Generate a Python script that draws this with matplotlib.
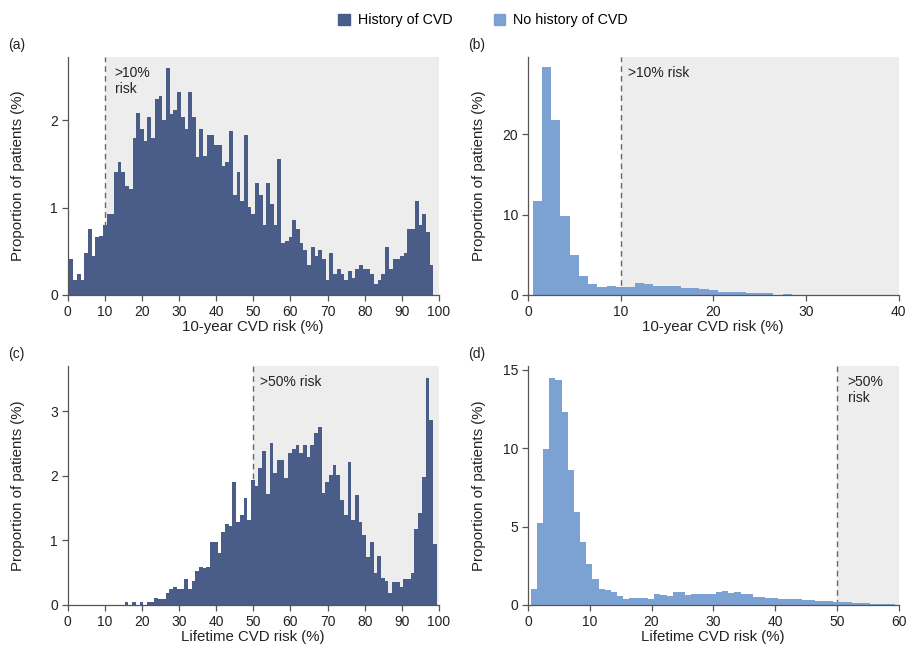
import numpy as np
import matplotlib
matplotlib.use("Agg")
import matplotlib.pyplot as plt
from matplotlib.patches import Patch

# --- DATA (proportion of patients, %, one value per 1-unit risk bin) ---
# (a) History of CVD, 10-year risk, bins start at 0.5
a_start = 0.5
a_vals = [0.41, 0.17, 0.24, 0.17, 0.48, 0.75, 0.45, 0.66, 0.68, 0.80,
          0.93, 0.93, 1.41, 1.52, 1.41, 1.25, 1.21, 1.79, 2.08, 1.90,
          1.76, 2.04, 1.79, 2.24, 2.28, 2.00, 2.60, 2.07, 2.11, 2.32,
          2.04, 1.90, 2.32, 2.04, 1.58, 1.90, 1.59, 1.83, 1.83, 1.72,
          1.72, 1.48, 1.52, 1.87, 1.14, 1.41, 1.07, 1.83, 1.01, 0.93,
          1.28, 1.14, 0.80, 1.28, 1.04, 0.80, 1.55, 0.59, 0.62, 0.66,
          0.86, 0.76, 0.59, 0.52, 0.34, 0.55, 0.45, 0.51, 0.41, 0.17,
          0.48, 0.24, 0.30, 0.24, 0.17, 0.27, 0.20, 0.30, 0.34, 0.30,
          0.30, 0.24, 0.13, 0.17, 0.24, 0.55, 0.30, 0.41, 0.41, 0.45,
          0.48, 0.76, 0.76, 1.07, 0.80, 0.93, 0.72, 0.34]

# (b) No history of CVD, 10-year risk
b_start = 0.5
b_vals = [11.67, 28.3, 21.8, 9.8, 5.0, 2.4, 1.4, 0.96, 1.17, 1.04,
          1.04, 1.46, 1.33, 1.17, 1.08, 1.08, 0.88, 0.88, 0.71, 0.56,
          0.42, 0.42, 0.42, 0.21, 0.21, 0.21, 0.04, 0.12, 0.04, 0.04]

# (c) History of CVD, lifetime risk
c_start = 15.4
c_vals = [0.04, 0.0, 0.04, 0.0, 0.04, 0.0, 0.04, 0.04, 0.11, 0.09,
          0.09, 0.18, 0.25, 0.28, 0.25, 0.25, 0.40, 0.25, 0.37, 0.53,
          0.59, 0.58, 0.59, 0.97, 0.97, 0.80, 1.13, 1.26, 1.22, 1.91,
          1.28, 1.39, 1.66, 1.32, 1.93, 1.84, 2.12, 2.38, 1.72, 2.51,
          2.05, 2.25, 2.25, 1.97, 2.35, 2.42, 2.48, 2.35, 2.48, 2.29,
          2.47, 2.66, 2.76, 1.73, 1.91, 2.01, 2.17, 2.01, 1.62, 1.39,
          2.21, 1.31, 1.70, 1.29, 1.08, 0.74, 0.97, 0.50, 0.76, 0.42,
          0.37, 0.18, 0.36, 0.36, 0.28, 0.40, 0.40, 0.50, 1.18, 1.42,
          1.98, 3.52, 2.87, 0.94]

# (d) No history of CVD, lifetime risk
d_start = 0.43
d_vals = [1.0, 5.24, 9.96, 14.48, 14.37, 12.31, 8.64, 5.94, 4.01, 2.59,
          1.68, 1.0, 0.93, 0.85, 0.57, 0.40, 0.47, 0.42, 0.47, 0.36,
          0.68, 0.64, 0.57, 0.83, 0.85, 0.62, 0.68, 0.72, 0.72, 0.72,
          0.83, 0.89, 0.79, 0.85, 0.68, 0.68, 0.53, 0.53, 0.45, 0.45,
          0.40, 0.40, 0.36, 0.36, 0.32, 0.32, 0.25, 0.25, 0.25, 0.17,
          0.17, 0.17, 0.13, 0.13, 0.13, 0.08, 0.08, 0.06, 0.06]

DARK = "#4a5c88"
LIGHT = "#7ba2d3"
SHADE = "#ededed"
TXT = "#222222"

plt.rcParams['font.family'] = ['Liberation Sans', 'DejaVu Sans']

W, H = 908, 647
fig = plt.figure(figsize=(W / 100, H / 100), dpi=100)


def make_ax(left, top, right, bottom):
    return fig.add_axes([left / W, 1 - bottom / H, (right - left) / W, (bottom - top) / H])


panels = [
    # ax box px, data, start, color, xlim, xticks, ylim, yticks, threshold, note, note offset, xlabel, tag
    ((67.5, 57, 439, 295), a_vals, a_start, DARK, 100, range(0, 101, 10), 2.72, [0, 1, 2],
     10, ">10%\nrisk", 10, "10-year CVD risk (%)", "(a)"),
    ((528, 57, 898.5, 295), b_vals, b_start, LIGHT, 40, range(0, 41, 10), 29.6, [0, 10, 20],
     10, ">10% risk", 7, "10-year CVD risk (%)", "(b)"),
    ((67.5, 366, 439, 605), c_vals, c_start, DARK, 100, range(0, 101, 10), 3.70, [0, 1, 2, 3],
     50, ">50% risk", 7, "Lifetime CVD risk (%)", "(c)"),
    ((528, 366, 898.5, 605), d_vals, d_start, LIGHT, 60, range(0, 61, 10), 15.25, [0, 5, 10, 15],
     50, ">50%\nrisk", 11, "Lifetime CVD risk (%)", "(d)"),
]

for box, vals, start, col, xmax, xt, ymax, yt, thr, note, noff, xlab, tag in panels:
    ax = make_ax(*box)
    w_px = box[2] - box[0]
    h_px = box[3] - box[1]
    edges = start + np.arange(len(vals))
    ax.axvspan(thr, xmax, color=SHADE, zorder=0, lw=0)
    ax.axvline(thr, color="#666666", lw=1, linestyle=(0, (4, 3)), zorder=1)
    ax.bar(edges, vals, width=1.0, align="edge", color=col, edgecolor="none", zorder=2)
    ax.annotate(note, xy=(thr, 1), xycoords=("data", "axes fraction"),
                xytext=(noff, -9), textcoords="offset pixels", ha="left", va="top",
                fontsize=10, color=TXT, linespacing=1.2)
    ax.set_xlim(0, xmax)
    ax.set_ylim(0, ymax)
    ax.set_xticks(list(xt))
    ax.set_yticks(yt)
    for s in ["top", "right"]:
        ax.spines[s].set_visible(False)
    for s in ["left", "bottom"]:
        ax.spines[s].set_color("#555555")
        ax.spines[s].set_linewidth(0.9)
    ax.tick_params(length=4, width=0.9, color="#555555", labelsize=10,
                   labelcolor=TXT, pad=3)
    ax.set_xlabel(xlab, fontsize=10.8, color=TXT)
    ax.xaxis.set_label_coords(0.5, -25 / h_px)
    ax.set_ylabel("Proportion of patients (%)", fontsize=10.8, color=TXT)
    ax.yaxis.set_label_coords(-42 / w_px, 0.5)
    fig.text((box[0] - 59.5) / W, 1 - (box[1] - 12) / H, tag, fontsize=10,
             color=TXT, ha="left", va="center")

fig.legend(handles=[Patch(color=DARK, label="History of CVD"),
                    Patch(color=LIGHT, label="No history of CVD")],
           loc="center", bbox_to_anchor=(483 / W, 1 - 20 / H), ncol=2,
           frameon=False, fontsize=10.3, handlelength=0.8, handleheight=0.8,
           columnspacing=2.9, handletextpad=0.55)

fig.savefig("out.png", dpi=100)
